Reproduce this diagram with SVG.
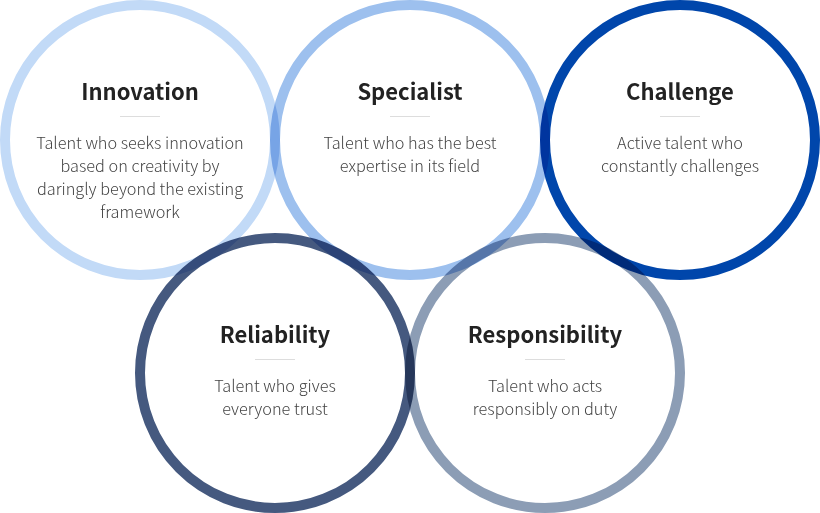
<svg xmlns="http://www.w3.org/2000/svg" width="820" height="513" viewBox="0 0 820 513">
<style>
.ring{fill:none;stroke-width:10;mix-blend-mode:multiply}
.t{font-family:"Noto Sans CJK KR","Noto Sans",sans-serif;font-weight:700;font-size:22px;fill:#222;text-anchor:middle}
.d{font-family:"Noto Sans CJK KR","Noto Sans",sans-serif;font-weight:300;font-size:16.3px;fill:#444;text-anchor:middle}
.sep{stroke:#dddddd;stroke-width:1}
</style>
<rect width="820" height="513" fill="#ffffff"/>
<g id="rings" style="isolation:isolate">
<circle class="ring" cx="140" cy="140" r="135" stroke="#c2daf7"/>
<circle class="ring" cx="410" cy="140" r="135" stroke="#9dc0ee"/>
<circle class="ring" cx="680" cy="140" r="135" stroke="#0046ab"/>
<circle class="ring" cx="275" cy="373" r="135" stroke="#45597f"/>
<circle class="ring" cx="545" cy="373" r="135" stroke="#8c9db5"/>
</g>
<g id="innovation">
<text class="t" x="140" y="100">Innovation</text>
<line class="sep" x1="120" y1="116.5" x2="160" y2="116.5"/>
<text class="d" x="140" y="149">Talent who seeks innovation</text>
<text class="d" x="140" y="172">based on creativity by</text>
<text class="d" x="140" y="195">daringly beyond the existing</text>
<text class="d" x="140" y="218">framework</text>
</g>
<g id="specialist">
<text class="t" x="410" y="100">Specialist</text>
<line class="sep" x1="390" y1="116.5" x2="430" y2="116.5"/>
<text class="d" x="410" y="149">Talent who has the best</text>
<text class="d" x="410" y="172">expertise in its field</text>
</g>
<g id="challenge">
<text class="t" x="680" y="100">Challenge</text>
<line class="sep" x1="660" y1="116.5" x2="700" y2="116.5"/>
<text class="d" x="680" y="149">Active talent who</text>
<text class="d" x="680" y="172">constantly challenges</text>
</g>
<g id="reliability">
<text class="t" x="275" y="343">Reliability</text>
<line class="sep" x1="255" y1="359.5" x2="295" y2="359.5"/>
<text class="d" x="275" y="392">Talent who gives</text>
<text class="d" x="275" y="415">everyone trust</text>
</g>
<g id="responsibility">
<text class="t" x="545" y="343">Responsibility</text>
<line class="sep" x1="525" y1="359.5" x2="565" y2="359.5"/>
<text class="d" x="545" y="392">Talent who acts</text>
<text class="d" x="545" y="415">responsibly on duty</text>
</g>
<g id="connectors"></g>
</svg>
